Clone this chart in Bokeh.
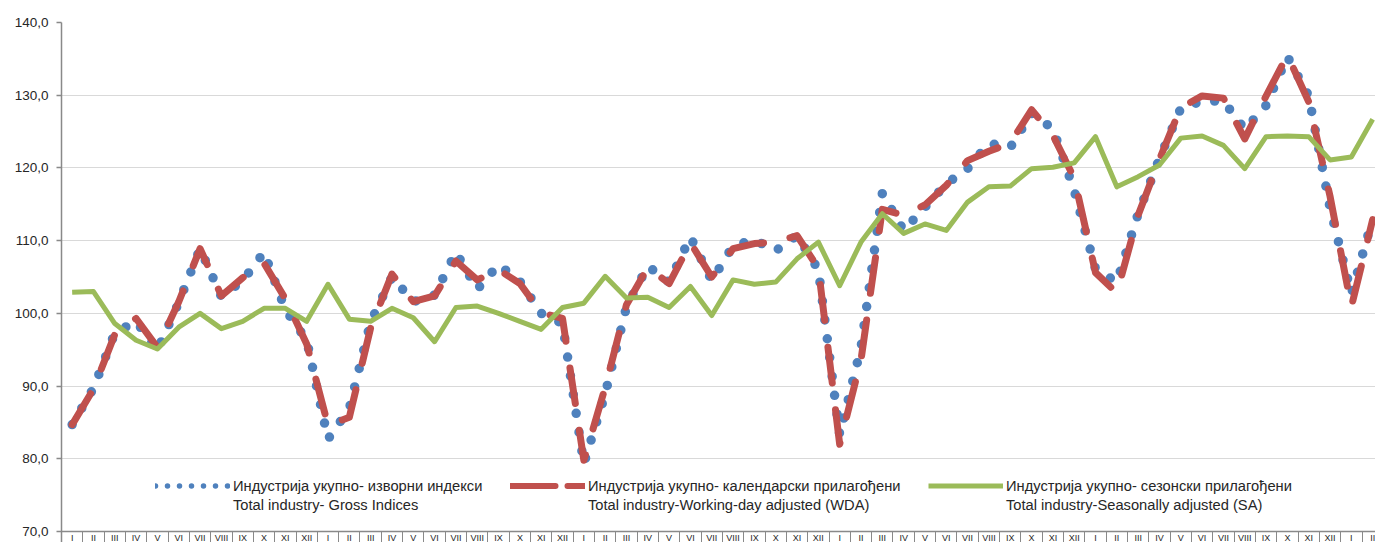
from bokeh.plotting import figure
from bokeh.models import (Range1d, FixedTicker, CustomJSTickFormatter, Legend, LegendItem,
                          LinearAxis)
from bokeh.embed import file_html
from bokeh.resources import INLINE

months = ["I", "II", "III", "IV", "V", "VI", "VII", "VIII", "IX", "X", "XI", "XII"]
month_labels = months * 5 + ["I", "II"]

gross = [84.7, 89.7, 97.3, 98.9, 94.9, 101.5, 108.9, 102.3, 104.5, 108.4, 100.5, 96.3,
         82.7, 86.9, 98.8, 105.0, 101.6, 102.5, 108.4, 103.3, 106.7, 104.4, 100.0, 98.6,
         79.3, 88.9, 100.9, 106.5, 104.3, 110.5, 104.5, 109.3, 110.1, 108.6, 110.7, 106.0,
         83.3, 95.3, 116.5, 111.4, 114.6, 117.8, 119.9, 123.4, 122.8, 127.5, 125.4, 116.9,
         106.1, 104.3, 113.7, 121.3, 128.2, 129.2, 129.2, 125.3, 128.6, 135.3, 129.9, 114.5,
         102.7, 113.0]

wda = [84.7, 89.6, 97.1, 99.3, 95.3, 101.6, 108.9, 102.4, 104.9, 106.9, 102.0, 95.8,
       84.6, 85.7, 98.0, 105.4, 101.6, 102.4, 107.2, 104.6, 106.0, 104.1, 100.1, 99.3,
       79.8, 89.8, 101.2, 106.3, 104.1, 109.7, 105.0, 108.9, 109.6, 109.8, 110.7, 106.2,
       82.0, 93.6, 114.3, 113.5, 114.9, 117.6, 121.0, 122.3, 123.4, 128.0, 124.5, 118.6,
       105.6, 102.8, 113.5, 121.2, 128.3, 129.9, 129.6, 124.0, 129.9, 135.5, 129.1, 116.1,
       100.9, 112.9]

sa = [102.9, 103.0, 98.6, 96.3, 95.1, 98.1, 100.0, 97.9, 98.9, 100.7, 100.7, 98.9,
      104.0, 99.2, 98.9, 100.7, 99.4, 96.1, 100.8, 101.0, 100.0, 98.9, 97.8, 100.8,
      101.4, 105.1, 102.1, 102.2, 100.8, 103.7, 99.7, 104.6, 104.0, 104.3, 107.5, 109.8,
      103.8, 109.8, 113.7, 111.0, 112.3, 111.4, 115.3, 117.4, 117.5, 119.9, 120.1, 120.7,
      124.3, 117.4, 118.8, 120.4, 124.1, 124.4, 123.1, 119.9, 124.3, 124.4, 124.3, 121.1,
      121.5, 126.7]

y_ticks = [70, 80, 90, 100, 110, 120, 130, 140]

legend_line1 = ["Индустрија укупно- изворни индекси",
                "Индустрија укупно- календарски прилагођени",
                "Индустрија укупно- сезонски прилагођени"]
legend_line2 = ["Total industry- Gross Indices",
                "Total industry-Working-day adjusted (WDA)",
                "Total industry-Seasonally adjusted (SA)"]

n = len(month_labels)
x = [i + 0.5 for i in range(n)]
nan = float("nan")

# layout geometry (pixels)
W, H = 1375, 542
left, top = 61, 22
axis_px = 531            # pixel row of the category axis (value 70)
cat_px = 21.32           # width of one category
px_per_unit = (axis_px - top) / (y_ticks[-1] - y_ticks[0])
x_end = (W - left) / cat_px
y_start = y_ticks[0] - (H - axis_px) / px_per_unit

p = figure(width=W, height=H, x_range=Range1d(0, x_end),
           y_range=Range1d(y_start, y_ticks[-1]),
           x_axis_type=None, output_backend="svg", toolbar_location=None,
           min_border_left=left, min_border_right=0, min_border_top=top,
           min_border_bottom=0)
p.outline_line_color = None
p.background_fill_color = "white"
p.border_fill_color = "white"

r1 = p.line(x, gross, line_color="#4F81BD", line_width=9.5, line_dash="0 19",
            line_cap="round", line_join="round")
r2 = p.line(x, wda, line_color="#C0504D", line_width=7, line_dash="36 27",
            line_cap="round", line_join="round")
r3 = p.line(x, sa, line_color="#9BBB59", line_width=5, line_join="round")
# legend-only keys (draw nothing on the chart)
key1 = p.line(x=[nan], y=[nan], line_color="#4F81BD", line_width=5.5, line_dash="0 12",
              line_cap="round")
key2 = p.line(x=[nan], y=[nan], line_color="#C0504D", line_width=6, line_dash="45 12",
              line_cap="round")
blank = p.line(x=[nan], y=[nan], line_alpha=0)   # invisible key for the second legend row

# y axis
p.yaxis.ticker = FixedTicker(ticks=y_ticks)
p.yaxis.formatter = CustomJSTickFormatter(code="return tick.toFixed(1).replace('.', ',');")
p.yaxis.axis_line_color = "#898989"
p.yaxis.axis_line_width = 1.5
p.yaxis.major_tick_line_color = "#898989"
p.yaxis.major_tick_line_width = 1.5
p.yaxis.major_tick_out = 5
p.yaxis.major_tick_in = 0
p.yaxis.minor_tick_line_color = None
p.yaxis.major_label_text_font = "Liberation Sans"
p.yaxis.major_label_text_font_size = "13.5px"
p.yaxis.major_label_text_color = "#262626"
p.yaxis.major_label_standoff = 8

p.ygrid.ticker = FixedTicker(ticks=y_ticks[1:])
p.ygrid.grid_line_color = "#d9d9d9"
p.ygrid.grid_line_width = 1

# x axis drawn at value 70: labels at category centres, separators at boundaries
xaxis = LinearAxis(fixed_location=y_ticks[0],
                   ticker=FixedTicker(ticks=x, minor_ticks=list(range(n + 1))),
                   formatter=CustomJSTickFormatter(args=dict(labels=month_labels),
                                                   code="return labels[Math.floor(tick)];"))
xaxis.axis_line_color = "#898989"
xaxis.axis_line_width = 1.5
xaxis.major_tick_line_color = None
xaxis.major_tick_out = 0
xaxis.major_tick_in = 0
xaxis.minor_tick_line_color = "#898989"
xaxis.minor_tick_line_width = 1
xaxis.minor_tick_out = 11
xaxis.minor_tick_in = 0
xaxis.major_label_text_font = "Liberation Sans"
xaxis.major_label_text_font_size = "9px"
xaxis.major_label_text_color = "#262626"
xaxis.major_label_standoff = -10
p.add_layout(xaxis, "below")

# legend: one small legend per entry and per text row, placed like the reference
entry_x = [94, 449, 867]
row_y = [48, 29]
for k, key in enumerate([key1, key2, r3]):
    for row, (label, kr) in enumerate([(legend_line1[k], key), (legend_line2[k], blank)]):
        lg = Legend(items=[LegendItem(label=label, renderers=[kr])],
                    orientation="horizontal", location=(entry_x[k], row_y[row]),
                    glyph_width=75, glyph_height=17, label_height=17,
                    label_standoff=3, padding=0, margin=0, spacing=0,
                    border_line_color=None, background_fill_alpha=0)
        lg.label_text_font = "Liberation Sans"
        lg.label_text_font_size = "14.7px"
        lg.label_text_color = "#262626"
        p.add_layout(lg)

open("out.html", "w").write(file_html(p, INLINE))
